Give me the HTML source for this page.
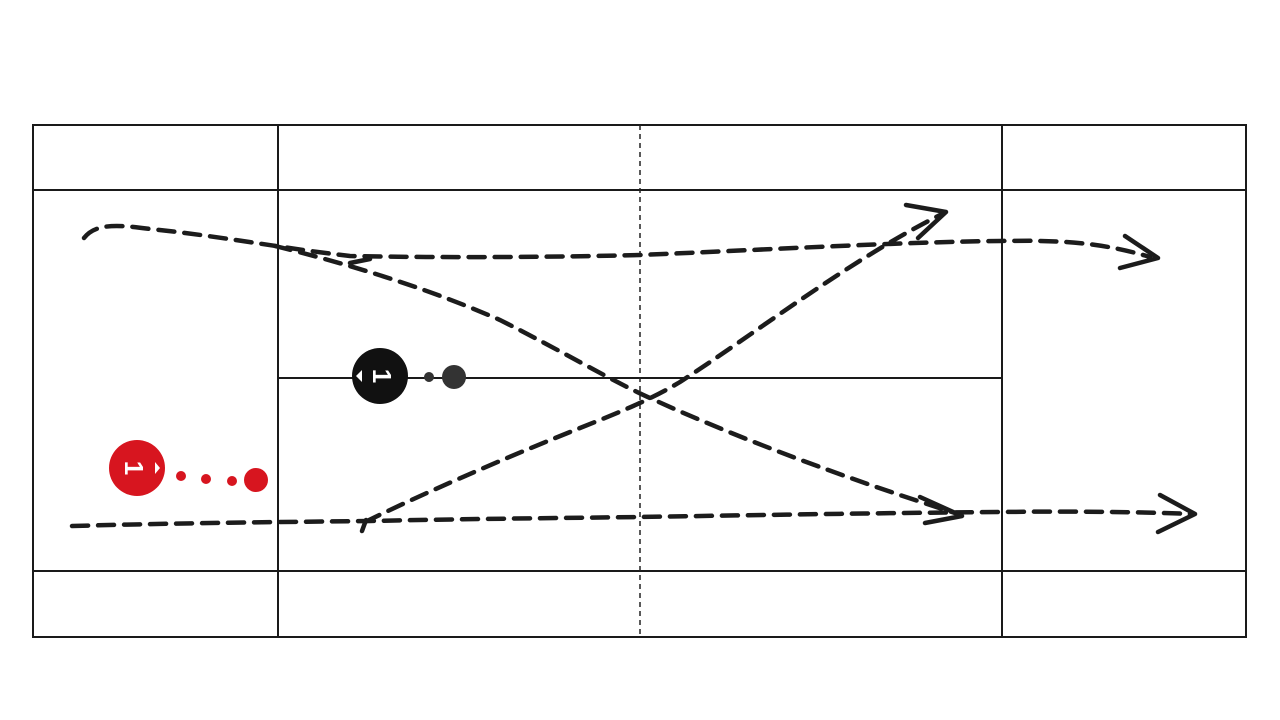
<!DOCTYPE html>
<html><head><meta charset="utf-8"><style>
html,body{margin:0;padding:0;background:#fff;width:1280px;height:720px;overflow:hidden}
</style></head><body>
<svg width="1280" height="720" viewBox="0 0 1280 720" xmlns="http://www.w3.org/2000/svg">
<rect width="1280" height="720" fill="#fff"/>
<g stroke="#1a1a1a" stroke-width="2" fill="none">
<rect x="33" y="125" width="1213" height="512"/>
<line x1="33" y1="190" x2="1246" y2="190"/>
<line x1="33" y1="571" x2="1246" y2="571"/>
<line x1="278" y1="125" x2="278" y2="637"/>
<line x1="1002" y1="125" x2="1002" y2="637"/>
<line x1="278" y1="378" x2="1002" y2="378"/>
</g>
<line x1="640" y1="125" x2="640" y2="637" stroke="#222" stroke-width="1.5" stroke-dasharray="5 4"/>
<g stroke="#1c1c1c" stroke-width="4.5" fill="none" stroke-linecap="round" stroke-dasharray="16 10">
<path d="M84 238 C95 224 115 224 150 229 C220 236 280 248 350 256 C450 258 560 257 640 255 C760 250 900 242 1000 241 C1060 240 1100 242 1150 257"/>
<path d="M275 246 C340 262 420 285 500 320 C560 350 610 380 650 398 C720 430 820 470 955 513"/>
<path d="M72 526 C180 523 280 522 370 521 C460 519 560 518 640 517 C760 515 880 513 1000 512 C1080 511 1140 512 1192 514"/>
<path d="M365 522 C420 495 500 460 580 428 C620 412 650 400 680 382 C760 330 850 260 942 214"/>
</g>
<g stroke="#1c1c1c" stroke-width="4.5" fill="none" stroke-linecap="round" stroke-linejoin="round">
<path d="M906 205 L946 212 L918 238"/>
<path d="M1125 236 L1158 258 L1120 268"/>
<path d="M920 497 L962 516 L925 523"/>
<path d="M1160 495 L1195 514 L1158 532"/>
<path d="M350 263 L370 259"/>
<path d="M362 531 L366 520"/>
</g>
<circle cx="380" cy="376" r="28" fill="#111"/>
<circle cx="429" cy="377" r="5" fill="#333"/>
<circle cx="454" cy="377" r="12" fill="#333"/>
<text x="382" y="376" fill="#fff" font-family="Liberation Sans, sans-serif" font-weight="bold" font-size="26" text-anchor="middle" dominant-baseline="central" transform="rotate(90 382 376)">1</text>
<circle cx="137" cy="468" r="28" fill="#d7151f"/>
<circle cx="181" cy="476" r="5" fill="#d7151f"/>
<circle cx="206" cy="479" r="5" fill="#d7151f"/>
<circle cx="232" cy="481" r="5" fill="#d7151f"/>
<circle cx="256" cy="480" r="12" fill="#d7151f"/>
<text x="134" y="468" fill="#fff" font-family="Liberation Sans, sans-serif" font-weight="bold" font-size="26" text-anchor="middle" dominant-baseline="central" transform="rotate(90 134 468)">1</text>
<path d="M155 462 L160 468 L155 474 Z" fill="#fff"/>
<path d="M362 370 L356 376 L362 382 Z" fill="#fff"/>
</svg>
</body></html>
